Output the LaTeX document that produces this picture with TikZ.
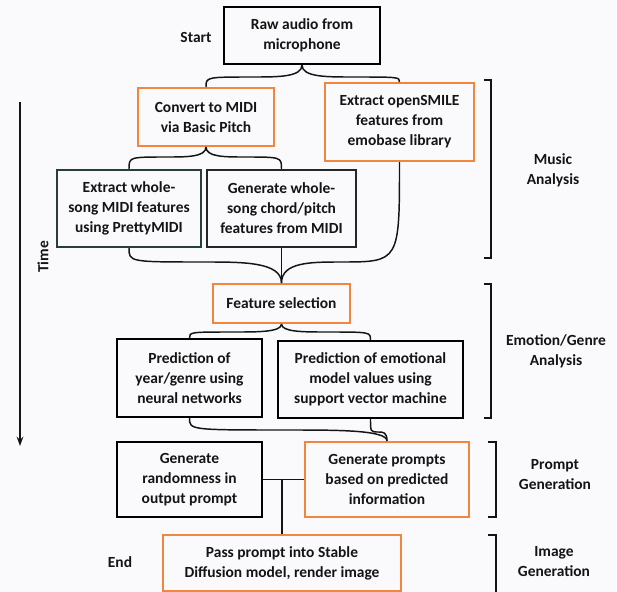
\documentclass[tikz,border=0pt]{standalone}
\usepackage{fontspec}
\setmainfont{Carlito}
\usetikzlibrary{arrows.meta,calc}
\definecolor{bgc}{RGB}{250,250,252}
\definecolor{orng}{RGB}{240,135,60}
\definecolor{slate}{RGB}{40,62,62}
\definecolor{ink}{RGB}{20,20,20}
\newcommand\bracearm[3]{\draw[conn] (#1) .. controls (#1 |- #3) and ($(#1 |- #3)!0.25!(#2 |- #3)$) .. ($(#1 |- #3)!0.5!(#2 |- #3)$) .. controls (#2 |- #3) and (#2 |- #3) .. (#2);}
\begin{document}
\begin{tikzpicture}[x=0.75pt,y=-0.75pt,
  txt/.style={text=ink, align=center, inner sep=0pt, font=\bfseries\fontsize{11.6}{15}\selectfont},
  box/.style={txt, draw=black, line width=1.5pt},
  obox/.style={box, draw=orng},
  conn/.style={line width=1.1pt, draw=ink},
  brk/.style={line width=1.4pt, draw=ink}]
\useasboundingbox[fill=bgc] (0,0) rectangle (617,592);

% boxes
\node[box, minimum width=117pt, minimum height=42.75pt] (raw) at (302,35.5) {Raw audio from\\microphone};
\node[obox, minimum width=102pt, minimum height=43.5pt] (convert) at (206,117) {Convert to MIDI\\via Basic Pitch};
\node[obox, minimum width=111.75pt, minimum height=58.5pt] (smile) at (399.5,122) {Extract openSMILE\\features from\\emobase library};
\node[box, draw=slate, minimum width=108pt, minimum height=57.75pt] (midi) at (129,208.5) {Extract whole-\\song MIDI features\\using PrettyMIDI};
\node[box, draw=black!85, minimum width=111.75pt, minimum height=57.75pt] (chord) at (281.5,208.5) {Generate whole-\\song chord/pitch\\features from MIDI};
\node[obox, minimum width=102.75pt, minimum height=29.25pt] (fs) at (281.5,303.5) {Feature selection};
\node[box, minimum width=108.75pt, minimum height=58.5pt] (year) at (189.5,378) {Prediction of\\year/genre using\\neural networks};
\node[box, minimum width=138.75pt, minimum height=57.75pt] (emo) at (370.5,379.5) {Prediction of emotional\\model values using\\support vector machine};
\node[box, minimum width=108.75pt, minimum height=56.25pt] (rand) at (189.5,479.5) {Generate\\randomness in\\output prompt};
\node[obox, minimum width=123pt, minimum height=56.25pt] (gp) at (387,479.5) {Generate prompts\\based on predicted\\information};
\node[obox, minimum width=178.5pt, minimum height=42pt] (sd) at (282,563) {Pass prompt into Stable\\Diffusion model, render image};

% side labels
\node[txt] (start) at (196,37) {Start};
\node[txt] (end) at (120,562) {End};
\node[txt] (musicl) at (553,170) {Music\\Analysis};
\node[txt] (emol) at (556,351) {Emotion/Genre\\Analysis};
\node[txt] (promptl) at (555,475) {Prompt\\Generation};
\node[txt] (imagel) at (554,562) {Image\\Generation};
\node[txt, rotate=90] (timel) at (43,257) {Time};

% brace levels
\coordinate (l1) at (0,77);
\coordinate (l2) at (0,157);
\coordinate (l3) at (0,262);
\coordinate (l4) at (0,332);
\coordinate (l5) at (0,430);
\coordinate (l6) at (0,432);

% connectors
\bracearm{raw.south}{convert.north}{l1}
\bracearm{raw.south}{smile.north}{l1}
\bracearm{convert.south}{midi.north}{l2}
\bracearm{convert.south}{chord.north}{l2}
\bracearm{fs.north}{midi.south}{l3}
\bracearm{fs.north}{smile.south}{l3}
\draw[conn] (chord.south) -- (fs.north);
\bracearm{fs.south}{year.north}{l4}
\bracearm{fs.south}{emo.north}{l4}
\bracearm{gp.north}{year.south}{l5}
\bracearm{gp.north}{emo.south}{l6}
\draw[conn] (rand.east) -- (gp.west);
\draw[conn] (sd.north) -- (sd.north |- rand.east);

% time arrow
\coordinate (t0) at (20,102);
\coordinate (t1) at (20,446);
\draw[line width=1.3pt, draw=ink, -{Stealth[length=7pt,width=5pt]}] (t0) -- (t1);

% brackets
\draw[brk] (484,80) -- (491,80) -- (491,258) -- (484,258);
\draw[brk] (484,284) -- (491,284) -- (491,418) -- (484,418);
\draw[brk] (488,442) -- (496,442) -- (496,517) -- (488,517);
\draw[brk] (488,535) -- (496,535) -- (496,596);
\end{tikzpicture}
\end{document}
